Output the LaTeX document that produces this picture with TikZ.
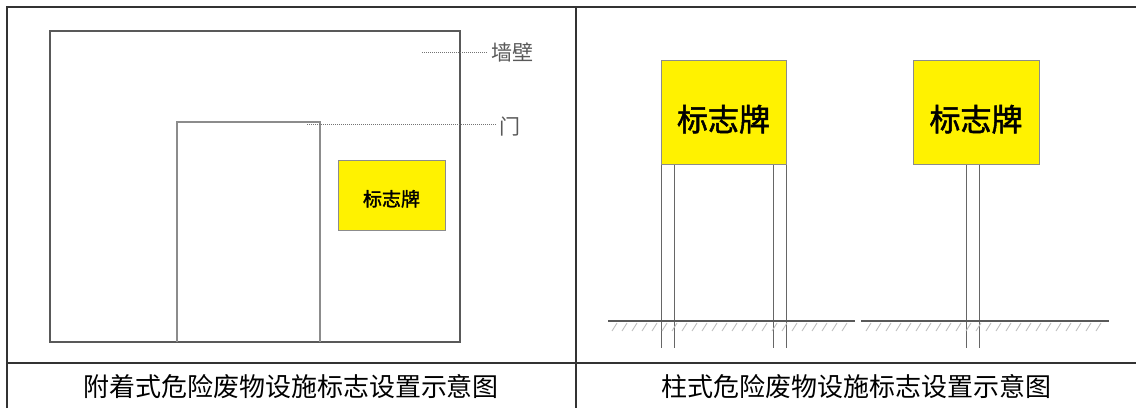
\documentclass[tikz,border=0pt]{standalone}
\usepackage{fontspec}
\newfontfamily\cjk{Noto Sans CJK SC}
\newfontfamily\cjkm[FakeBold=1.6]{Noto Sans CJK SC}
\usetikzlibrary{positioning}
\begin{document}
\begin{tikzpicture}
        [
            x=1pt, y=-1pt,
            rule/.style={draw=black!80, line width=1.6pt},
            wall/.style={draw=black!65, line width=2.4pt},
            door/.style={draw=black!45, line width=1.4pt},
            leader/.style={draw=black!55, densely dotted, line width=1pt},
            plate/.style={rectangle, draw=black!45, fill=yellow, line width=0.9pt,
                          text height=42pt, text depth=4pt,
                          font=\cjkm\fontsize{31}{33}\selectfont},
            post/.style={draw=black!60, line width=1pt},
            ground/.style={draw=black!65, line width=1.8pt},
            hatch/.style={draw=black!25, line width=0.9pt},
            caption/.style={font=\cjk\fontsize{26}{30}\selectfont},
            tag/.style={text=black!65, font=\cjk\fontsize{21}{24}\selectfont}
        ]
        \useasboundingbox (0,0) rectangle (1136,408);
        % table frame
        \draw [rule] (7,408) -- (7,7) -- (1136,7);
        \draw [rule] (576,7) -- (576,408);
        \draw [rule] (7,363) -- (1136,363);
        % left: sign on the wall
        \draw [wall] (50,31) rectangle (460,342);
        \draw [door] (177,342) |- (320,122) -- (320,342);
        \node (s0) [plate, minimum width=107pt, minimum height=70pt,
                    text height=24pt, text depth=3pt,
                    font=\cjkm\fontsize{19}{21}\selectfont] at (391.5,195.5) {标志牌};
        \node (wl) [tag, anchor=west] at (488,52) {墙壁};
        \node (dl) [tag, anchor=west] at (496,127) {门};
        \coordinate (wp) at (422,52);
        \coordinate (dp) at (307,124);
        \draw [leader] (wp) -- (wl.west);
        \draw [leader] (dp) -- (dp -| dl.west);
        \node (c1) [caption] at (291,387) {附着式危险废物设施标志设置示意图};
        % right: signs on posts
        \foreach \x in {661,674,773,786,966,979}
            \draw [post] (\x,164) -- (\x,348);
        \node (s1) [plate, minimum width=125pt, minimum height=104pt] at (723.5,112) {标志牌};
        \node (s2) [plate, minimum width=126pt, minimum height=104pt] at (976,112) {标志牌};
        \draw [ground] (608,321) -- (855,321);
        \draw [ground] (861,321) -- (1109,321);
        \foreach \x in {612,622,...,850,866,876,...,1104}
            \draw [hatch] (\x,331) -- ++(5,-8);
        \node (c2) [caption] at (856,387) {柱式危险废物设施标志设置示意图};
    \end{tikzpicture}
\end{document}
